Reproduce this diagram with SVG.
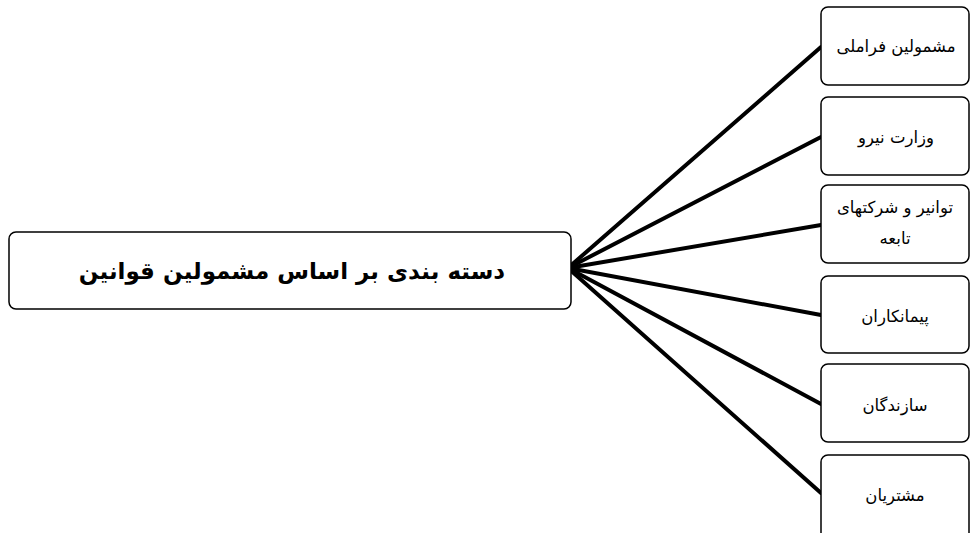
<svg xmlns="http://www.w3.org/2000/svg" width="971" height="533" viewBox="0 0 971 533">
<style>
.box{fill:#fff;stroke:#000;stroke-width:1.5}
.t{font-family:"DejaVu Sans","Noto Sans",sans-serif;font-size:16.5px;fill:#000;text-anchor:middle;direction:rtl}
.main{font-family:"DejaVu Sans","Noto Sans",sans-serif;font-size:23px;font-weight:bold;fill:#000;text-anchor:middle;direction:rtl}
.c{stroke:#000;stroke-width:4;fill:none;stroke-linecap:round}
</style>
<rect width="971" height="533" fill="#fff"/>
<g id="connectors">
<line class="c" x1="568" y1="268" x2="821" y2="47"/>
<line class="c" x1="568" y1="268" x2="821" y2="137"/>
<line class="c" x1="568" y1="268" x2="821" y2="225"/>
<line class="c" x1="568" y1="268" x2="821" y2="315"/>
<line class="c" x1="568" y1="268" x2="821" y2="404"/>
<line class="c" x1="568" y1="268" x2="821" y2="493"/>
</g>
<g id="main">
<rect class="box" x="9" y="232" width="562" height="77" rx="7"/>
<text class="main" x="292" y="279">دسته بندی بر اساس مشمولین قوانین</text>
</g>
<g id="n1">
<rect class="box" x="821" y="7" width="148" height="78" rx="7"/>
<text class="t" x="896" y="52">مشمولین فراملی</text>
</g>
<g id="n2">
<rect class="box" x="821" y="97" width="148" height="78" rx="7"/>
<text class="t" x="896" y="143">وزارت نیرو</text>
</g>
<g id="n3">
<rect class="box" x="821" y="185" width="148" height="78" rx="7"/>
<text class="t" x="895" y="213">توانیر و شرکتهای</text>
<text class="t" x="895" y="244">تابعه</text>
</g>
<g id="n4">
<rect class="box" x="821" y="276" width="148" height="77" rx="7"/>
<text class="t" x="895" y="322">پیمانکاران</text>
</g>
<g id="n5">
<rect class="box" x="821" y="364" width="148" height="78" rx="7"/>
<text class="t" x="895" y="411">سازندگان</text>
</g>
<g id="n6">
<rect class="box" x="821" y="455" width="148" height="85" rx="7"/>
<text class="t" x="895" y="501">مشتریان</text>
</g>
</svg>
